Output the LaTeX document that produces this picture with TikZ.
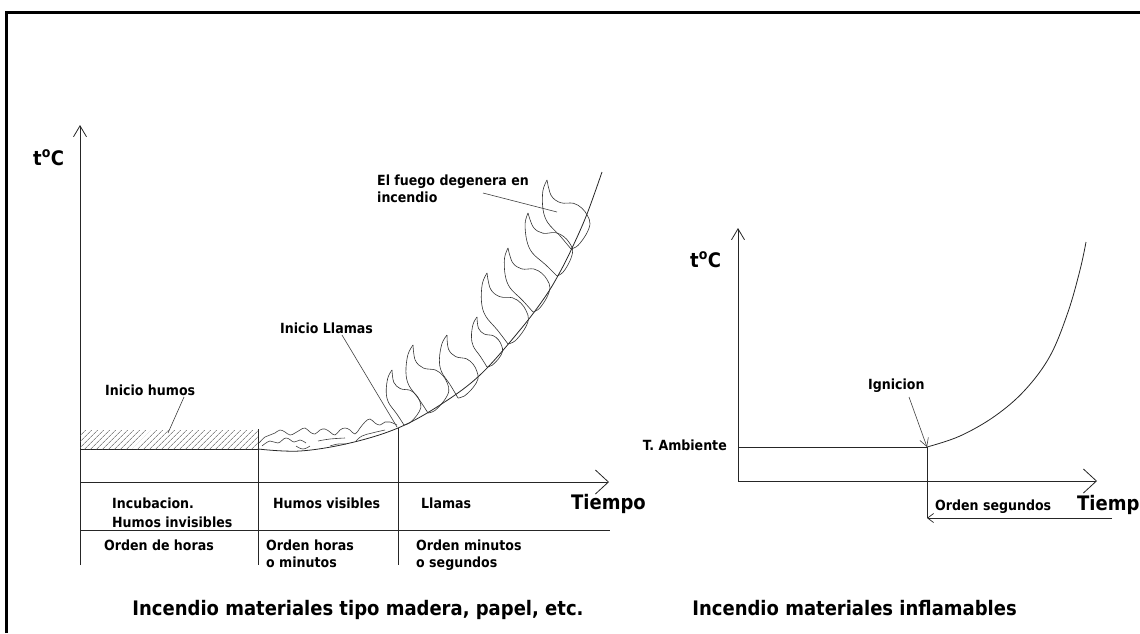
\documentclass[tikz,border=0pt]{standalone}
\usepackage{fontspec}
\setmainfont{DejaVu Sans Condensed}
\usetikzlibrary{arrows.meta,patterns.meta}

% one flame: base (#1,#2), tip (#3,#4), drawn in a frame whose y axis runs base -> tip
\newcommand\flame[4]{%
  \pgfmathsetmacro\fvx{#3-#1}%
  \pgfmathsetmacro\fny{-(#4-#2)}%
  \pgfmathsetmacro\fwx{-1.3*(#4-#2)}%
  \pgfmathsetmacro\fwy{-1.3*(#3-#1)}%
  \begin{scope}[shift={(#1,#2)}, x={(\fwx pt,\fwy pt)}, y={(\fvx pt,\fny pt)}]
    \draw[flm] plot[smooth, tension=0.6] coordinates {(0,0) (-0.064,0.22) (-0.141,0.45) (-0.14,0.647) (-0.078,0.88) (0,1)};
    \draw[flm] plot[smooth, tension=0.6] coordinates {(0,1) (-0.012,0.78) (0.057,0.645) (0.183,0.58) (0.25,0.478) (0.279,0.36) (0.276,0.24) (0.2,0.12) (0.08,0.014) (0,0)};
  \end{scope}}

\begin{document}
\begin{tikzpicture}[x=1pt,y=-1pt,
  ln/.style={line width=0.8pt, draw=black!85},
  thin line/.style={line width=0.6pt, draw=black!75},
  flm/.style={line width=0.6pt, draw=black!80},
  yaxis/.style={ln, -{Straight Barb[length=11pt,width=13pt,line width=0.8pt]}},
  xaxis/.style={ln, -{Straight Barb[length=13pt,width=24pt,line width=0.8pt]}},
  lbl/.style={font=\fontsize{14}{17}\selectfont\bfseries, inner sep=0pt, anchor=base west},
  big/.style={font=\fontsize{20}{24}\selectfont\bfseries, inner sep=0pt, anchor=base west},
  ttl/.style={font=\fontsize{20}{24}\selectfont\bfseries, inner sep=0pt},
]
\useasboundingbox (0,0) rectangle (1140,633);
\begin{scope}
\clip (0,0) rectangle (1140,633);

% frame
\draw[line width=3pt] (6,633) -- (6,12) -- (1140,12);

% ---------------- left chart: wood, paper ----------------
\coordinate (L0) at (80,565);
\coordinate (Ltop) at (80,125);
\coordinate (Lax) at (80,482);
\coordinate (Laxe) at (609,482);
\coordinate (Lrow) at (80,530);
\coordinate (Lrowe) at (610,530);
\coordinate (Lbase) at (80,449);
\coordinate (S1) at (258,449);
\coordinate (S1b) at (258,565);
\coordinate (S1t) at (258,429);
\coordinate (S2) at (398,428);
\coordinate (S2b) at (398,565);

\draw[yaxis] (L0) -- (Ltop);
\draw[xaxis] (Lax) -- (Laxe);
\draw[ln] (Lrow) -- (Lrowe);
\draw[ln] (Lbase) -- (S1);
\draw[ln] (S1t) -- (S1b);
\draw[ln] (S2) -- (S2b);

% smouldering band
\fill[pattern={Lines[angle=45,distance=4pt,line width=0.5pt]}, pattern color=black!70] (80,430) rectangle (258,449);

% temperature curve
\draw[ln] plot[smooth, tension=0.6] coordinates {(258,449) (300,451) (350,443) (398,428) (440,405) (480,375) (520,330) (545,297) (560,272) (573,246) (587,214) (602,172)};

% visible smoke
\draw[thin line] plot[smooth, tension=0.7] coordinates {(259,443) (265,437) (270,435) (275,433) (280,430) (285,432) (290,435) (295,433) (300,430) (305,428) (310,432) (315,434) (320,430) (325,429) (330,432) (335,435) (340,430) (345,428) (350,430) (355,434) (360,428) (365,422) (370,419) (375,423) (380,425) (385,422) (390,422) (397,425)};
\draw[thin line] plot[smooth, tension=0.7] coordinates {(262,446) (270,441) (278,443) (286,438) (294,442) (300,440) (306,443)};
\draw[thin line] plot[smooth, tension=0.7] coordinates {(296,446) (303,449) (310,446)};
\draw[thin line] plot[smooth, tension=0.7] coordinates {(318,441) (330,439) (345,438)};
\draw[thin line] plot[smooth, tension=0.7] coordinates {(330,446) (338,444) (346,444)};
\draw[thin line] plot[smooth, tension=0.7] coordinates {(356,441) (362,436) (372,433) (385,430)};

% flames
\flame{404}{425}{392}{370}
\flame{428}{413}{413}{345}
\flame{458}{398}{447}{335}
\flame{487}{367}{477}{317}
\flame{508}{344}{487}{273}
\flame{533}{312}{508}{248}
\flame{557}{276}{528}{213}
\flame{571}{249}{547}{180}

% labels
\node[big] (tcL) at (33,165) {t\textsuperscript{o}C};
\node[lbl] (humos) at (105,395) {Inicio humos};
\node[lbl] (llamas) at (280,333) {Inicio Llamas};
\node[lbl] (fuego1) at (377,185) {El fuego degenera en};
\node[lbl] (fuego2) at (377,202) {incendio};
\coordinate (humosP) at (168,433);
\coordinate (llamasP) at (397,427);
\coordinate (fuegoP) at (557,212);
\draw[thin line] (184,397) -- (humosP);
\draw[thin line] (342,335) -- (llamasP);
\draw[thin line] (483,193) -- (fuegoP);

\node[lbl] (inc1) at (112,508) {Incubacion.};
\node[lbl] (inc2) at (112,527) {Humos invisibles};
\node[lbl] (hvis) at (273,508) {Humos visibles};
\node[lbl] (llam) at (421,508) {Llamas};
\node[lbl] (odh) at (104,550) {Orden de horas};
\node[lbl] (oh1) at (266,550) {Orden horas};
\node[lbl] (oh2) at (266,567) {o minutos};
\node[lbl] (om1) at (416,550) {Orden minutos};
\node[lbl] (om2) at (416,567) {o segundos};
\node[big] (tiempoL) at (571,509) {Tiempo};

\node[ttl, anchor=base] (titL) at (358,615) {Incendio materiales tipo madera, papel, etc.};

% ---------------- right chart: flammable materials ----------------
\coordinate (R0) at (738,481);
\coordinate (Rtop) at (738,228);
\coordinate (Rx) at (1097,481);
\coordinate (Ramb) at (738,447);
\coordinate (Rign) at (927,447);
\coordinate (Rbot) at (927,518);
\coordinate (Rend) at (1112,518);

\draw[yaxis] (R0) -- (Rtop);
\draw[xaxis] (R0) -- (Rx);
\draw[ln] (Ramb) -- (Rign);
\draw[ln] (Rign) -- (Rbot);
\draw[ln, -{Straight Barb[length=6pt,width=9pt,line width=0.7pt]}] (Rend) -- (Rbot);
\draw[ln] plot[smooth, tension=0.6] coordinates {(927,447) (960,436) (995,416) (1025,390) (1050,356) (1068,312) (1080,270) (1086,242)};

\node[big] (tcR) at (690,267) {t\textsuperscript{o}C};
\node[lbl, anchor=base east] (amb) at (727,450) {T. Ambiente};
\node[lbl] (ign) at (868,389) {Ignicion};
\draw[thin line, -{Straight Barb[length=8pt,width=9pt,line width=0.6pt]}] (909,397) -- (Rign);
\node[lbl] (oseg) at (935,510) {Orden segundos};
\node[big] (tiempoR) at (1077,510) {Tiempo};

\node[ttl, anchor=base east] (titR) at (1017,615) {Incendio materiales inflamables};
\end{scope}
\end{tikzpicture}
\end{document}
